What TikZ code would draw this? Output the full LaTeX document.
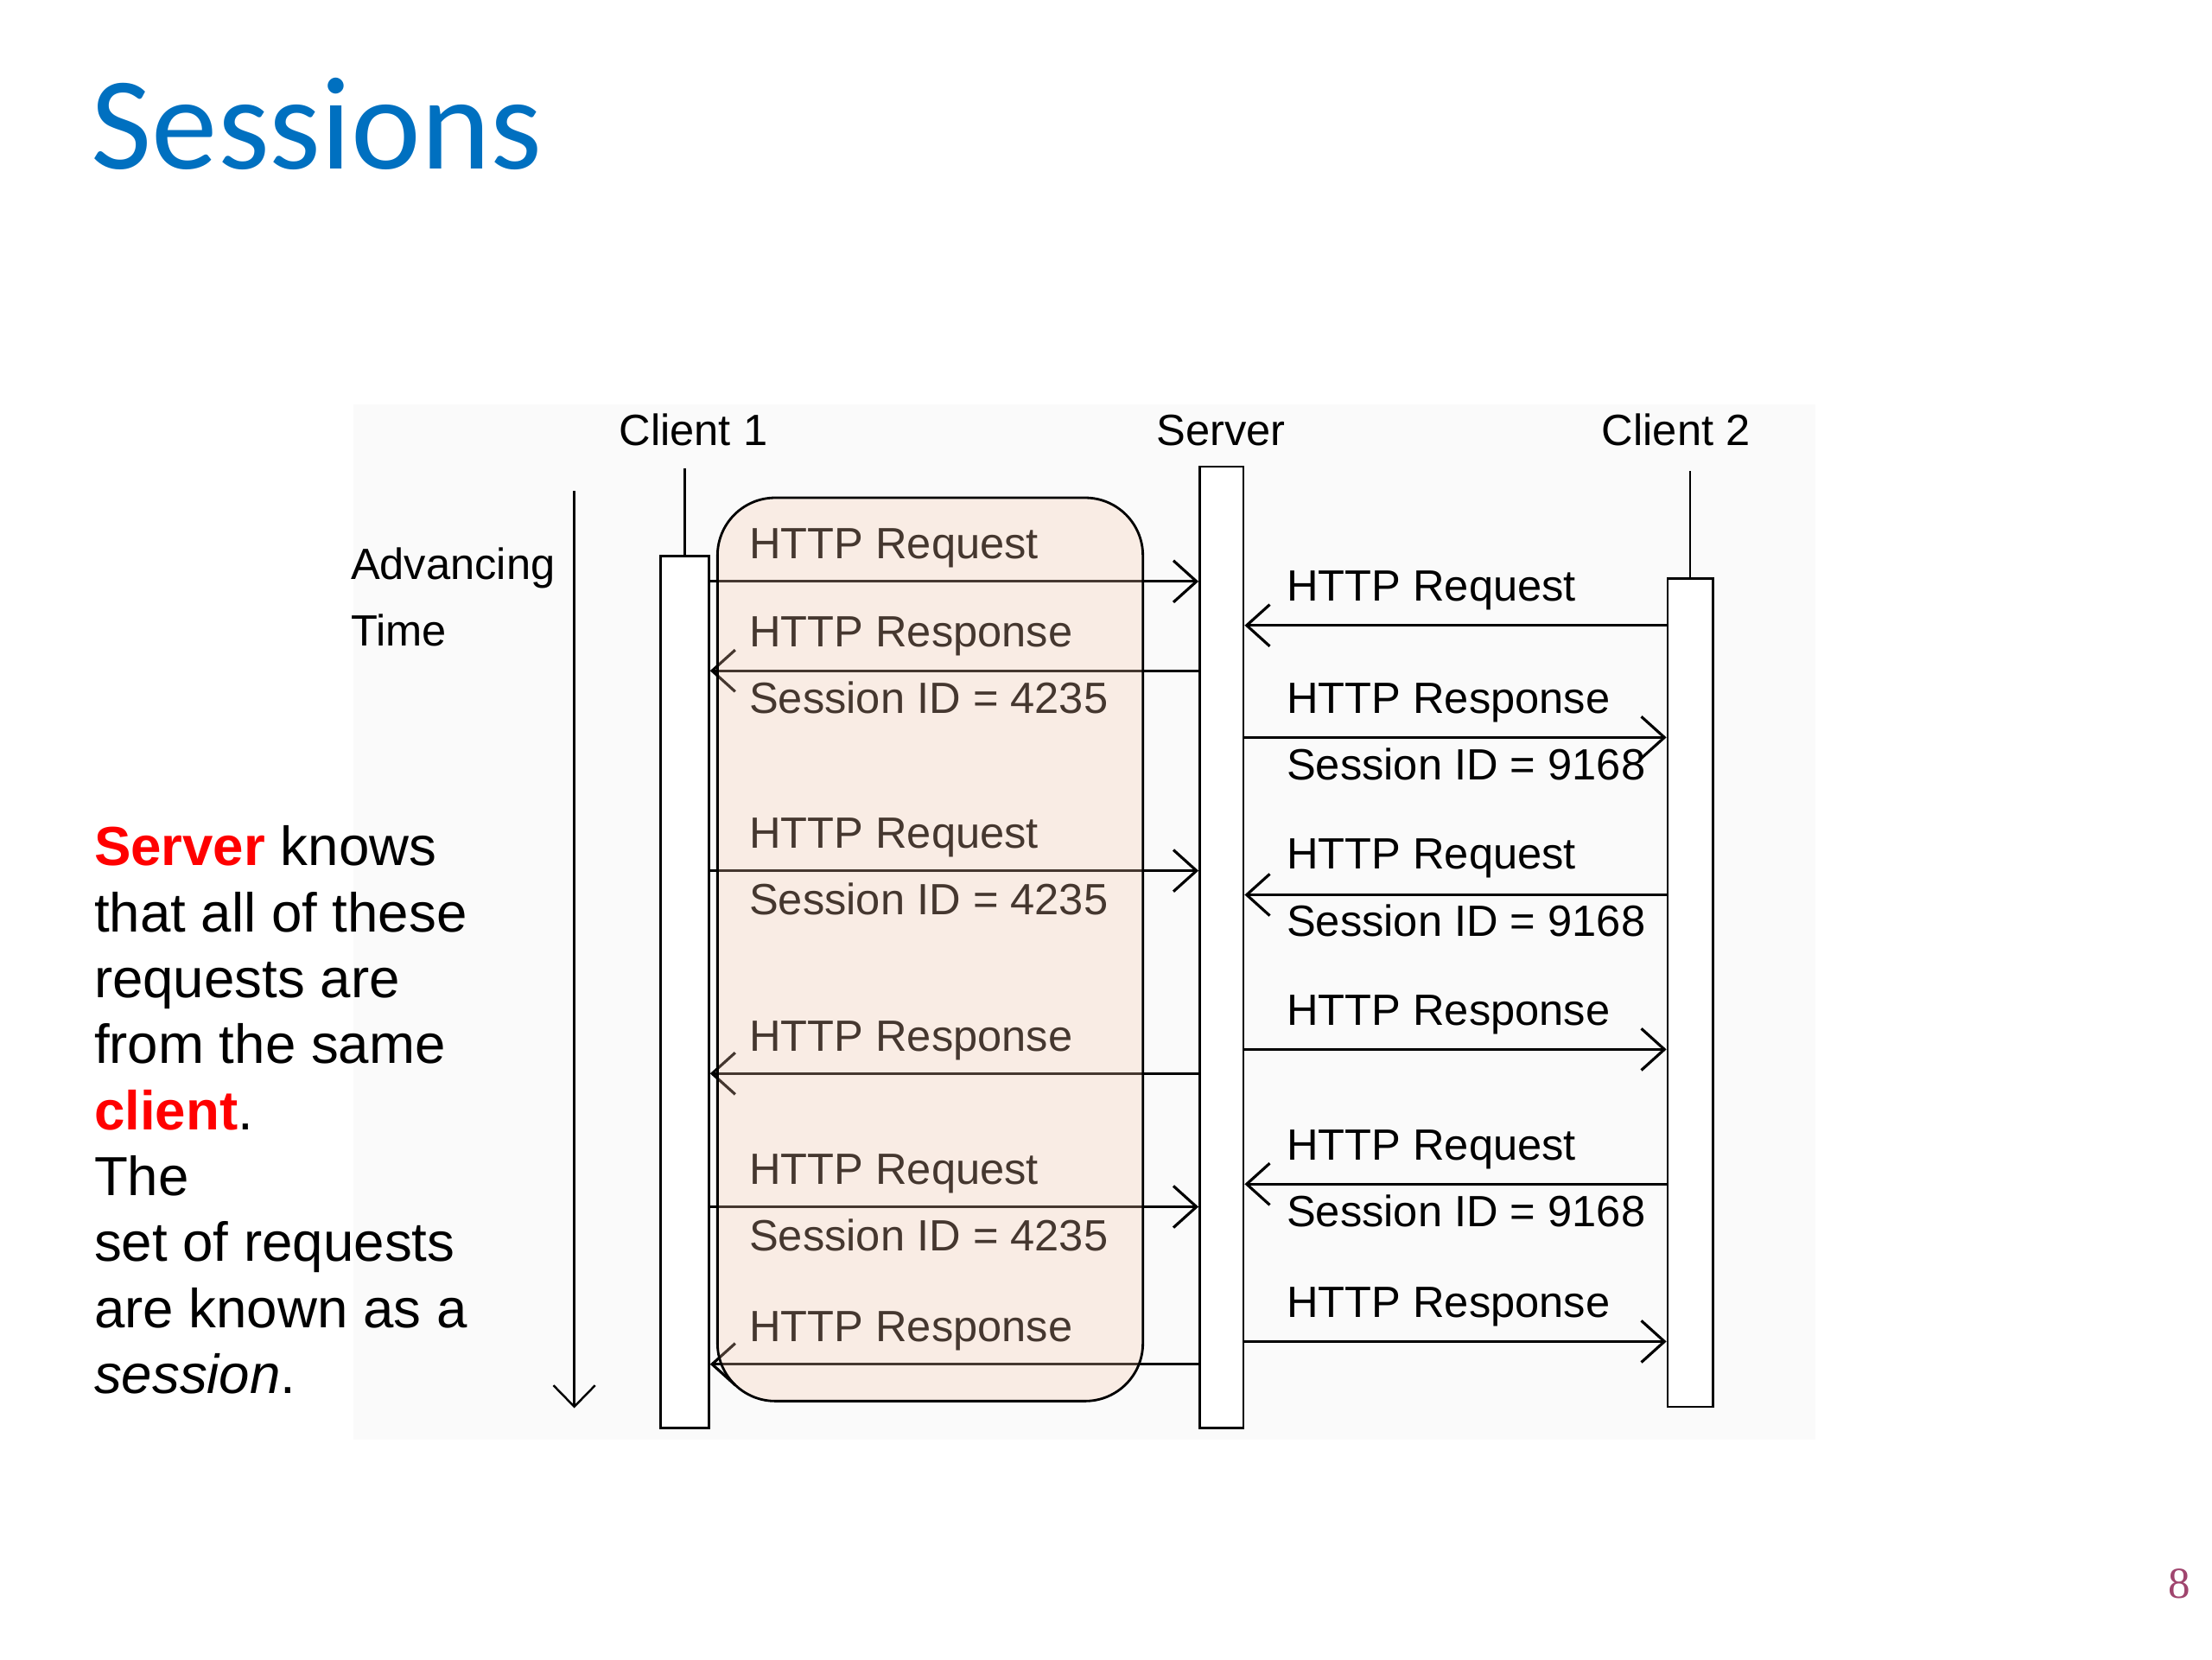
\documentclass[tikz,border=0pt]{standalone}
\usepackage{fontspec}
\setmainfont{Liberation Sans}
\newfontfamily\titlefont{Carlito}
\newfontfamily\pagefont{Liberation Serif}
\usepackage{xcolor}
\usepackage{tikz}
\usetikzlibrary{arrows.meta,fit}
\definecolor{titleblue}{HTML}{0070C0}
\definecolor{alert}{HTML}{FF0000}
\definecolor{peach}{HTML}{F9C9AC}
\definecolor{panelgray}{HTML}{FAFAFA}
\definecolor{pagenum}{HTML}{A0456E}
\newcommand{\diagfont}{\fontsize{14.4}{21.7}\selectfont}
\newcommand{\notefont}{\fontsize{18.1}{21.7}\selectfont}
\tikzset{
  panel/.style={fill=panelgray},
  bar/.style={draw=black, fill=white, line width=0.7pt, inner sep=0pt},
  life/.style={draw=black, line width=0.7pt},
  msg/.style={draw=black, line width=0.9pt, -{Straight Barb[length=7.6pt,width=13.7pt]}},
  timeline/.style={draw=black, line width=0.7pt, -{Straight Barb[length=7pt,width=13.7pt]}},
  lab/.style={font=\diagfont, text=black, inner sep=0pt, anchor=base west},
  session/.style={draw=black, line width=0.8pt, fill=peach, fill opacity=0.28, rounded corners=19pt, inner sep=0pt},
  titletext/.style={font=\titlefont\fontsize{43.5}{50}\selectfont, text=titleblue, inner sep=0pt, anchor=base west},
  pagetext/.style={font=\pagefont\fontsize{14.5}{16}\selectfont, text=pagenum, inner sep=0pt, anchor=base},
  note/.style={font=\notefont, text=black, inner sep=0pt, anchor=north west, align=left},
}

\begin{document}
\begin{tikzpicture}[x=0.01641cm, y=-0.01641cm]
  \useasboundingbox (0,0) rectangle (1560,1170);
  \fill[white] (0,0) rectangle (1560,1170);

  % title and slide number
  \node[titletext] (title) at (64,119) {Sessions};
  \node[pagetext] (pnum) at (1537,1127) {8};

  % light backdrop of the diagram
  \fill[panel] (249,285) rectangle (1280,1015);

  % lifelines
  \node[bar, fit={(466,392) (500,1007)}] (c1bar) {};
  \node[bar, fit={(846,329) (877,1007)}] (srvbar) {};
  \node[bar, fit={(1176,408) (1208,992)}] (c2bar) {};
  \coordinate (c1top) at (483,330);
  \coordinate (c2top) at (1192,332);
  \draw[life] (c1top) -- (c1bar.north);
  \draw[life] (c2top) -- (c2bar.north);

  \node[lab, anchor=base] (c1name) at (489,314) {Client 1};
  \node[lab, anchor=base] (srvname) at (861,314) {Server};
  \node[lab, anchor=base] (c2name) at (1182,314) {Client 2};

  % time axis
  \coordinate (tstart) at (405,346);
  \coordinate (tend) at (405,993);
  \draw[timeline] (tstart) -- (tend);
  \node[lab, anchor=north west, align=left] (tlab) at (247,386) {Advancing\\Time};

  % client 1 <-> server
  \draw[msg] (c1bar.east |- 0,410) -- (srvbar.west |- 0,410);
  \node[lab] (q1) at (528,394) {HTTP Request};
  \draw[msg] (srvbar.west |- 0,473) -- (c1bar.east |- 0,473);
  \node[lab] (r1) at (528,456) {HTTP Response};
  \node[lab] (r1id) at (528,503) {Session ID = 4235};
  \draw[msg] (c1bar.east |- 0,614) -- (srvbar.west |- 0,614);
  \node[lab] (q2) at (528,598) {HTTP Request};
  \node[lab] (q2id) at (528,645) {Session ID = 4235};
  \draw[msg] (srvbar.west |- 0,757) -- (c1bar.east |- 0,757);
  \node[lab] (r2) at (528,741) {HTTP Response};
  \draw[msg] (c1bar.east |- 0,851) -- (srvbar.west |- 0,851);
  \node[lab] (q3) at (528,835) {HTTP Request};
  \node[lab] (q3id) at (528,882) {Session ID = 4235};
  \draw[msg] (srvbar.west |- 0,962) -- (c1bar.east |- 0,962);
  \node[lab] (r3) at (528,946) {HTTP Response};

  % client 2 <-> server
  \draw[msg] (c2bar.west |- 0,441) -- (srvbar.east |- 0,441);
  \node[lab] (q4) at (907,424) {HTTP Request};
  \draw[msg] (srvbar.east |- 0,520) -- (c2bar.west |- 0,520);
  \node[lab] (r4) at (907,503) {HTTP Response};
  \node[lab] (r4id) at (907,550) {Session ID = 9168};
  \draw[msg] (c2bar.west |- 0,631) -- (srvbar.east |- 0,631);
  \node[lab] (q5) at (907,613) {HTTP Request};
  \node[lab] (q5id) at (907,660) {Session ID = 9168};
  \draw[msg] (srvbar.east |- 0,740) -- (c2bar.west |- 0,740);
  \node[lab] (r5) at (907,723) {HTTP Response};
  \draw[msg] (c2bar.west |- 0,835) -- (srvbar.east |- 0,835);
  \node[lab] (q6) at (907,818) {HTTP Request};
  \node[lab] (q6id) at (907,865) {Session ID = 9168};
  \draw[msg] (srvbar.east |- 0,946) -- (c2bar.west |- 0,946);
  \node[lab] (r6) at (907,929) {HTTP Response};

  % the session, laid over client 1's messages
  \node[session, fit={(506,351) (806,988)}] (sess) {};

  % note on the left
  \node[note] (notetext) at (66,582) {\textbf{\color{alert}Server} knows\\
    that all of these\\
    requests are\\
    from the same\\
    \textbf{\color{alert}client}.\\
    The\\
    set of requests\\
    are known as a\\
    \textit{session}.};
\end{tikzpicture}
\end{document}
